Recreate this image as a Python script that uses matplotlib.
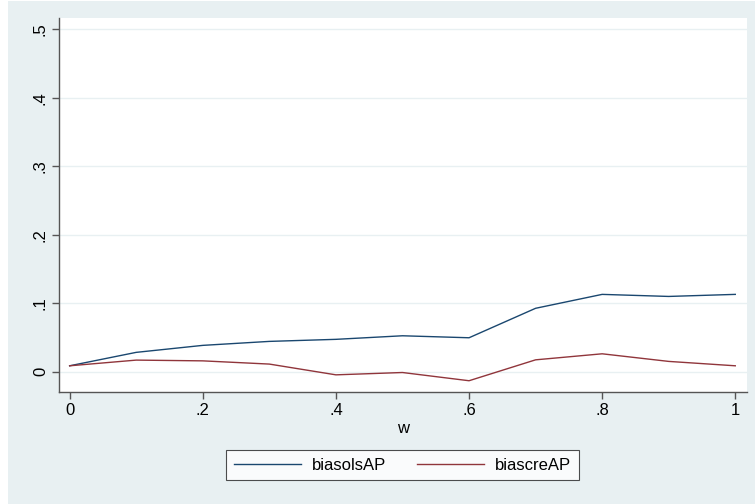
import numpy as np
import matplotlib.pyplot as plt
from matplotlib.patches import Rectangle

plt.rcParams['font.family'] = ['Liberation Sans', 'DejaVu Sans']

w = [0, 0.1, 0.2, 0.3, 0.4, 0.5, 0.6, 0.7, 0.8, 0.9, 1.0]
biasolsAP = [0.0088, 0.0284, 0.0386, 0.0444, 0.0474, 0.0526, 0.0497, 0.0927, 0.1130, 0.1100, 0.1130]
biascreAP = [0.0088, 0.0171, 0.0160, 0.0113, -0.0044, -0.0010, -0.0130, 0.0175, 0.0263, 0.0152, 0.0088]

xticks = [0, 0.2, 0.4, 0.6, 0.8, 1.0]
xticklabels = ['0', '.2', '.4', '.6', '.8', '1']
yticks = [0, 0.1, 0.2, 0.3, 0.4, 0.5]
yticklabels = ['0', '.1', '.2', '.3', '.4', '.5']

bg = '#e8f0f2'
navy = '#1a476f'
maroon = '#90353b'
fs = 12

fig = plt.figure(figsize=(7.55, 5.04), dpi=100, facecolor='white')
# graph region background (thin white strip on the left edge)
fig.patches.append(Rectangle((8 / 755, 0), 1 - 8 / 755, 1 - 1 / 504,
                             transform=fig.transFigure, facecolor=bg,
                             edgecolor='none', zorder=-10))

ax = fig.add_axes([59 / 755, 1 - 391.7 / 504, (747 - 59) / 755, (391.7 - 17.5) / 504])
ax.set_facecolor('white')

ax.plot(w, biasolsAP, color=navy, lw=1.0, label='biasolsAP')
ax.plot(w, biascreAP, color=maroon, lw=1.0, label='biascreAP')

ax.set_xlim(-0.016, 1.0176)
ax.set_ylim(-0.029, 0.517)
ax.set_xticks(xticks)
ax.set_xticklabels(xticklabels)
ax.set_yticks(yticks)
ax.set_yticklabels(yticklabels, rotation=90, va='center')

for y in yticks:
    ax.axhline(y, color=bg, lw=1.0, zorder=0)

for s in ['top', 'right']:
    ax.spines[s].set_visible(False)
for s in ['left', 'bottom']:
    ax.spines[s].set_color('#555555')
    ax.spines[s].set_linewidth(1.0)

ax.tick_params(axis='both', colors='#555555', length=5, width=1.0,
               labelsize=fs, labelcolor='black', pad=3)
ax.set_xlabel('w', fontsize=fs, labelpad=2)

leg = fig.legend(loc='center', bbox_to_anchor=(402.5 / 755, 1 - 465 / 504),
                 ncol=2, frameon=True, fancybox=False, fontsize=fs,
                 handlelength=4.0, handletextpad=0.65, columnspacing=1.9,
                 borderpad=0.45, borderaxespad=0)
leg.get_frame().set_edgecolor('#222222')
leg.get_frame().set_linewidth(0.8)
leg.get_frame().set_facecolor('white')

fig.savefig('out.png', dpi=100, facecolor=fig.get_facecolor())
